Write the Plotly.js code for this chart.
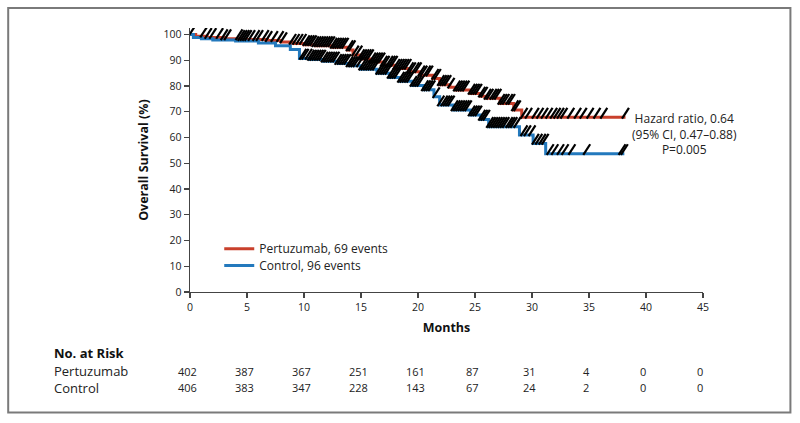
<!DOCTYPE html>
<html>
<head>
<meta charset="utf-8">
<script src="https://cdn.plot.ly/plotly-3.0.1.min.js"></script>
<style>html,body{margin:0;padding:0;background:#fff}#chart{width:800px;height:423px}</style>
</head>
<body>
<div id="chart"></div>
<script>
// Kaplan-Meier step points (months, % surviving)
const pertuzumabTimes = [0,0.5,1.5,3,4.5,6.8,8,9,10,11,12.5,13.8,14.3,15,16,17,18,19.2,20.2,21.3,21.9,22.8,23.3,24.6,25.5,26,27.2,28.4,29.1,38.2];
const pertuzumabSurv  = [100,99.3,98.8,98.3,98,97.6,97.1,96.5,96,95.6,95,94,92,90.5,89.3,88,86.8,85.5,84.2,82.9,80.5,79.5,78.4,77.1,76,75.2,73.2,70.7,67.8,67.8];
const controlTimes = [0,0.3,1,2,4,6,7.5,8.8,9.6,10.5,11.7,13,14,15,16.4,17.5,18.4,19.5,20.5,21.4,21.9,23.1,24.6,25.5,26.2,28.9,30.1,31.2,38.1];
const controlSurv  = [100,98.8,98.3,97.8,97.5,96.7,95.6,94.2,90.7,90.3,89.6,88.7,87.8,86.5,84.9,83.3,81.8,80.2,78.5,75.8,72.6,70.7,68.7,67,64.2,61,57.7,53.7,53.7];

// censoring times (months)
const pertuzumabCensor = [0.2,1.2,1.6,2.0,2.6,3.0,3.3,4.3,4.5,4.7,4.9,5.1,5.4,5.8,6.1,6.6,6.9,7.4,7.9,8.2,9.0,9.3,9.6,9.9,10.2,
  10.4,10.6,10.8,11.0,11.2,11.4,11.6,11.8,12.0,12.2,12.4,12.6,12.8,13.0,13.2,13.4,13.6,14.0,14.2,14.5,14.8,15.0,15.2,15.4,15.6,15.8,
  16.0,16.2,16.4,16.6,16.8,17.0,17.2,17.5,17.7,17.9,18.1,18.3,18.5,18.7,18.9,19.1,19.3,19.5,19.8,20.0,20.3,20.5,20.8,21.0,21.5,21.7,
  22.0,22.2,22.4,22.6,22.9,23.4,23.6,23.8,24.0,24.2,24.7,24.9,25.1,25.3,25.6,25.8,26.1,26.3,26.6,26.8,27.0,27.3,27.5,27.7,28.0,28.2,
  28.5,28.7,29.3,29.7,30.3,30.7,31.1,31.5,31.9,32.2,32.5,32.8,33.4,34.0,34.5,35.1,35.7,36.3,38.2];
const controlCensor = [9.9,10.1,10.4,10.6,10.8,11.0,11.2,11.4,11.6,11.8,12.0,12.2,12.4,12.6,12.8,13.0,13.2,13.4,13.6,13.8,14.0,14.2,
  14.4,14.6,14.9,15.1,15.3,15.5,15.7,15.9,16.1,16.3,16.6,16.8,17.0,17.2,17.4,17.6,17.8,18.0,18.2,18.5,18.7,18.9,19.1,19.3,19.6,19.8,
  20.0,20.2,20.6,20.8,21.0,21.2,21.6,22.0,22.3,22.5,22.7,22.9,23.2,23.4,23.6,23.8,24.0,24.2,24.4,24.7,24.9,25.1,25.3,25.6,25.8,26.0,
  26.3,26.5,26.7,26.9,27.1,27.3,27.5,27.7,28.0,28.2,28.4,28.7,29.3,29.6,30.0,30.3,30.6,30.9,31.15,31.6,32.0,32.5,32.9,33.5,34.8,37.9,38.1];

// number at risk table
const riskMonths = [0,5,10,15,20,25,30,35,40,45];
const riskPertuzumab = [402,387,367,251,161,87,31,4,0,0];
const riskControl = [406,383,347,228,143,67,24,2,0,0];
const yTicks = [0,10,20,30,40,50,60,70,80,90,100];
const groupNames = ['Pertuzumab, 69 events','Control, 96 events'];
const rowNames = ['Pertuzumab','Control'];
const hazardText = 'Hazard ratio, 0.64<br>(95% CI, 0.47–0.88)<br>P=0.005';

const RED = '#c9402c', BLUE = '#2379bd';
const FONT = '"Open Sans", "Noto Sans", sans-serif';
const TXT = '#222';

function stepAt(times, surv, t){
  let v = surv[0];
  for (let i=0;i<times.length;i++){ if (times[i] <= t) v = surv[i]; }
  return v;
}
function censorTrace(times, surv, cens){
  return {
    x: cens, y: cens.map(t => stepAt(times, surv, t) + 1.6),
    mode:'markers', type:'scatter', showlegend:false, hoverinfo:'skip',
    marker:{symbol:'line-ne', size:9, angle:-12, color:'#000', line:{color:'#000', width:2.2}}
  };
}

const data = [
  {x:pertuzumabTimes, y:pertuzumabSurv, type:'scatter', mode:'lines', name:groupNames[0], legend:'legend', line:{shape:'hv', color:RED, width:3}},
  {x:controlTimes, y:controlSurv, type:'scatter', mode:'lines', name:groupNames[1], legend:'legend2', line:{shape:'hv', color:BLUE, width:3}},
  censorTrace(pertuzumabTimes, pertuzumabSurv, pertuzumabCensor),
  censorTrace(controlTimes, controlSurv, controlCensor)
];

const rowY = [-0.231, -0.301, -0.362];
const annotations = [
  {xref:'x', yref:'y', x:43.4, y:61.2, text:hazardText, showarrow:false,
   xanchor:'center', yanchor:'middle', align:'center', font:{family:FONT, size:12, color:TXT}},
  {xref:'paper', yref:'paper', x:-0.267, y:rowY[0], text:'<b>No. at Risk</b>', showarrow:false, borderpad:0, xanchor:'left', yanchor:'middle', font:{family:FONT, size:13, color:'#111'}},
  {xref:'paper', yref:'paper', x:-0.267, y:rowY[1], text:rowNames[0], showarrow:false, borderpad:0, xanchor:'left', yanchor:'middle', font:{family:FONT, size:13, color:TXT}},
  {xref:'paper', yref:'paper', x:-0.267, y:rowY[2], text:rowNames[1], showarrow:false, borderpad:0, xanchor:'left', yanchor:'middle', font:{family:FONT, size:13, color:TXT}}
];
riskMonths.forEach((m,i)=>{
  annotations.push({xref:'x', yref:'paper', x:m, y:rowY[1], text:String(riskPertuzumab[i]), showarrow:false, borderpad:0, xanchor:'center', yanchor:'middle', xshift:-3, font:{family:FONT, size:11, color:TXT}});
  annotations.push({xref:'x', yref:'paper', x:m, y:rowY[2], text:String(riskControl[i]), showarrow:false, borderpad:0, xanchor:'center', yanchor:'middle', xshift:-3, font:{family:FONT, size:11, color:TXT}});
});

const legendBase = {xanchor:'left', yanchor:'middle', bgcolor:'rgba(0,0,0,0)', font:{family:FONT, size:12, color:TXT}};
const layout = {
  width:800, height:423,
  margin:{l:190, r:97, t:28, b:131},
  paper_bgcolor:'#fff', plot_bgcolor:'#fff',
  font:{family:FONT, size:12, color:TXT},
  xaxis:{range:[0,45], tickvals:riskMonths, ticks:'outside', ticklen:5, tickwidth:1.3, tickcolor:'#444',
         showline:true, linecolor:'#444', linewidth:1.3, showgrid:false, zeroline:false,
         tickfont:{family:FONT, size:10.5, color:TXT},
         title:{text:'<b>Months</b>', font:{family:FONT, size:12.5, color:'#111'}, standoff:10}},
  yaxis:{range:[0,102.5], tickvals:yTicks, ticks:'outside', ticklen:5, tickwidth:1.3, tickcolor:'#444',
         showline:true, linecolor:'#444', linewidth:1.3, showgrid:false, zeroline:false,
         tickfont:{family:FONT, size:10.5, color:TXT},
         title:{text:'<b>Overall Survival (%)</b>', font:{family:FONT, size:12.5, color:'#111'}, standoff:12}},
  legend:Object.assign({x:0.057, y:0.164}, legendBase),
  legend2:Object.assign({x:0.057, y:0.100}, legendBase),
  showlegend:true,
  annotations:annotations,
  shapes:[{type:'rect', xref:'paper', yref:'paper', x0:-0.3544, x1:1.1704, y0:-0.4565, y1:1.0753, line:{color:'#7a7a7a', width:2}, fillcolor:'rgba(0,0,0,0)', layer:'below'}]
};

Plotly.newPlot('chart', data, layout, {staticPlot:true, displayModeBar:false});
</script>
</body>
</html>
